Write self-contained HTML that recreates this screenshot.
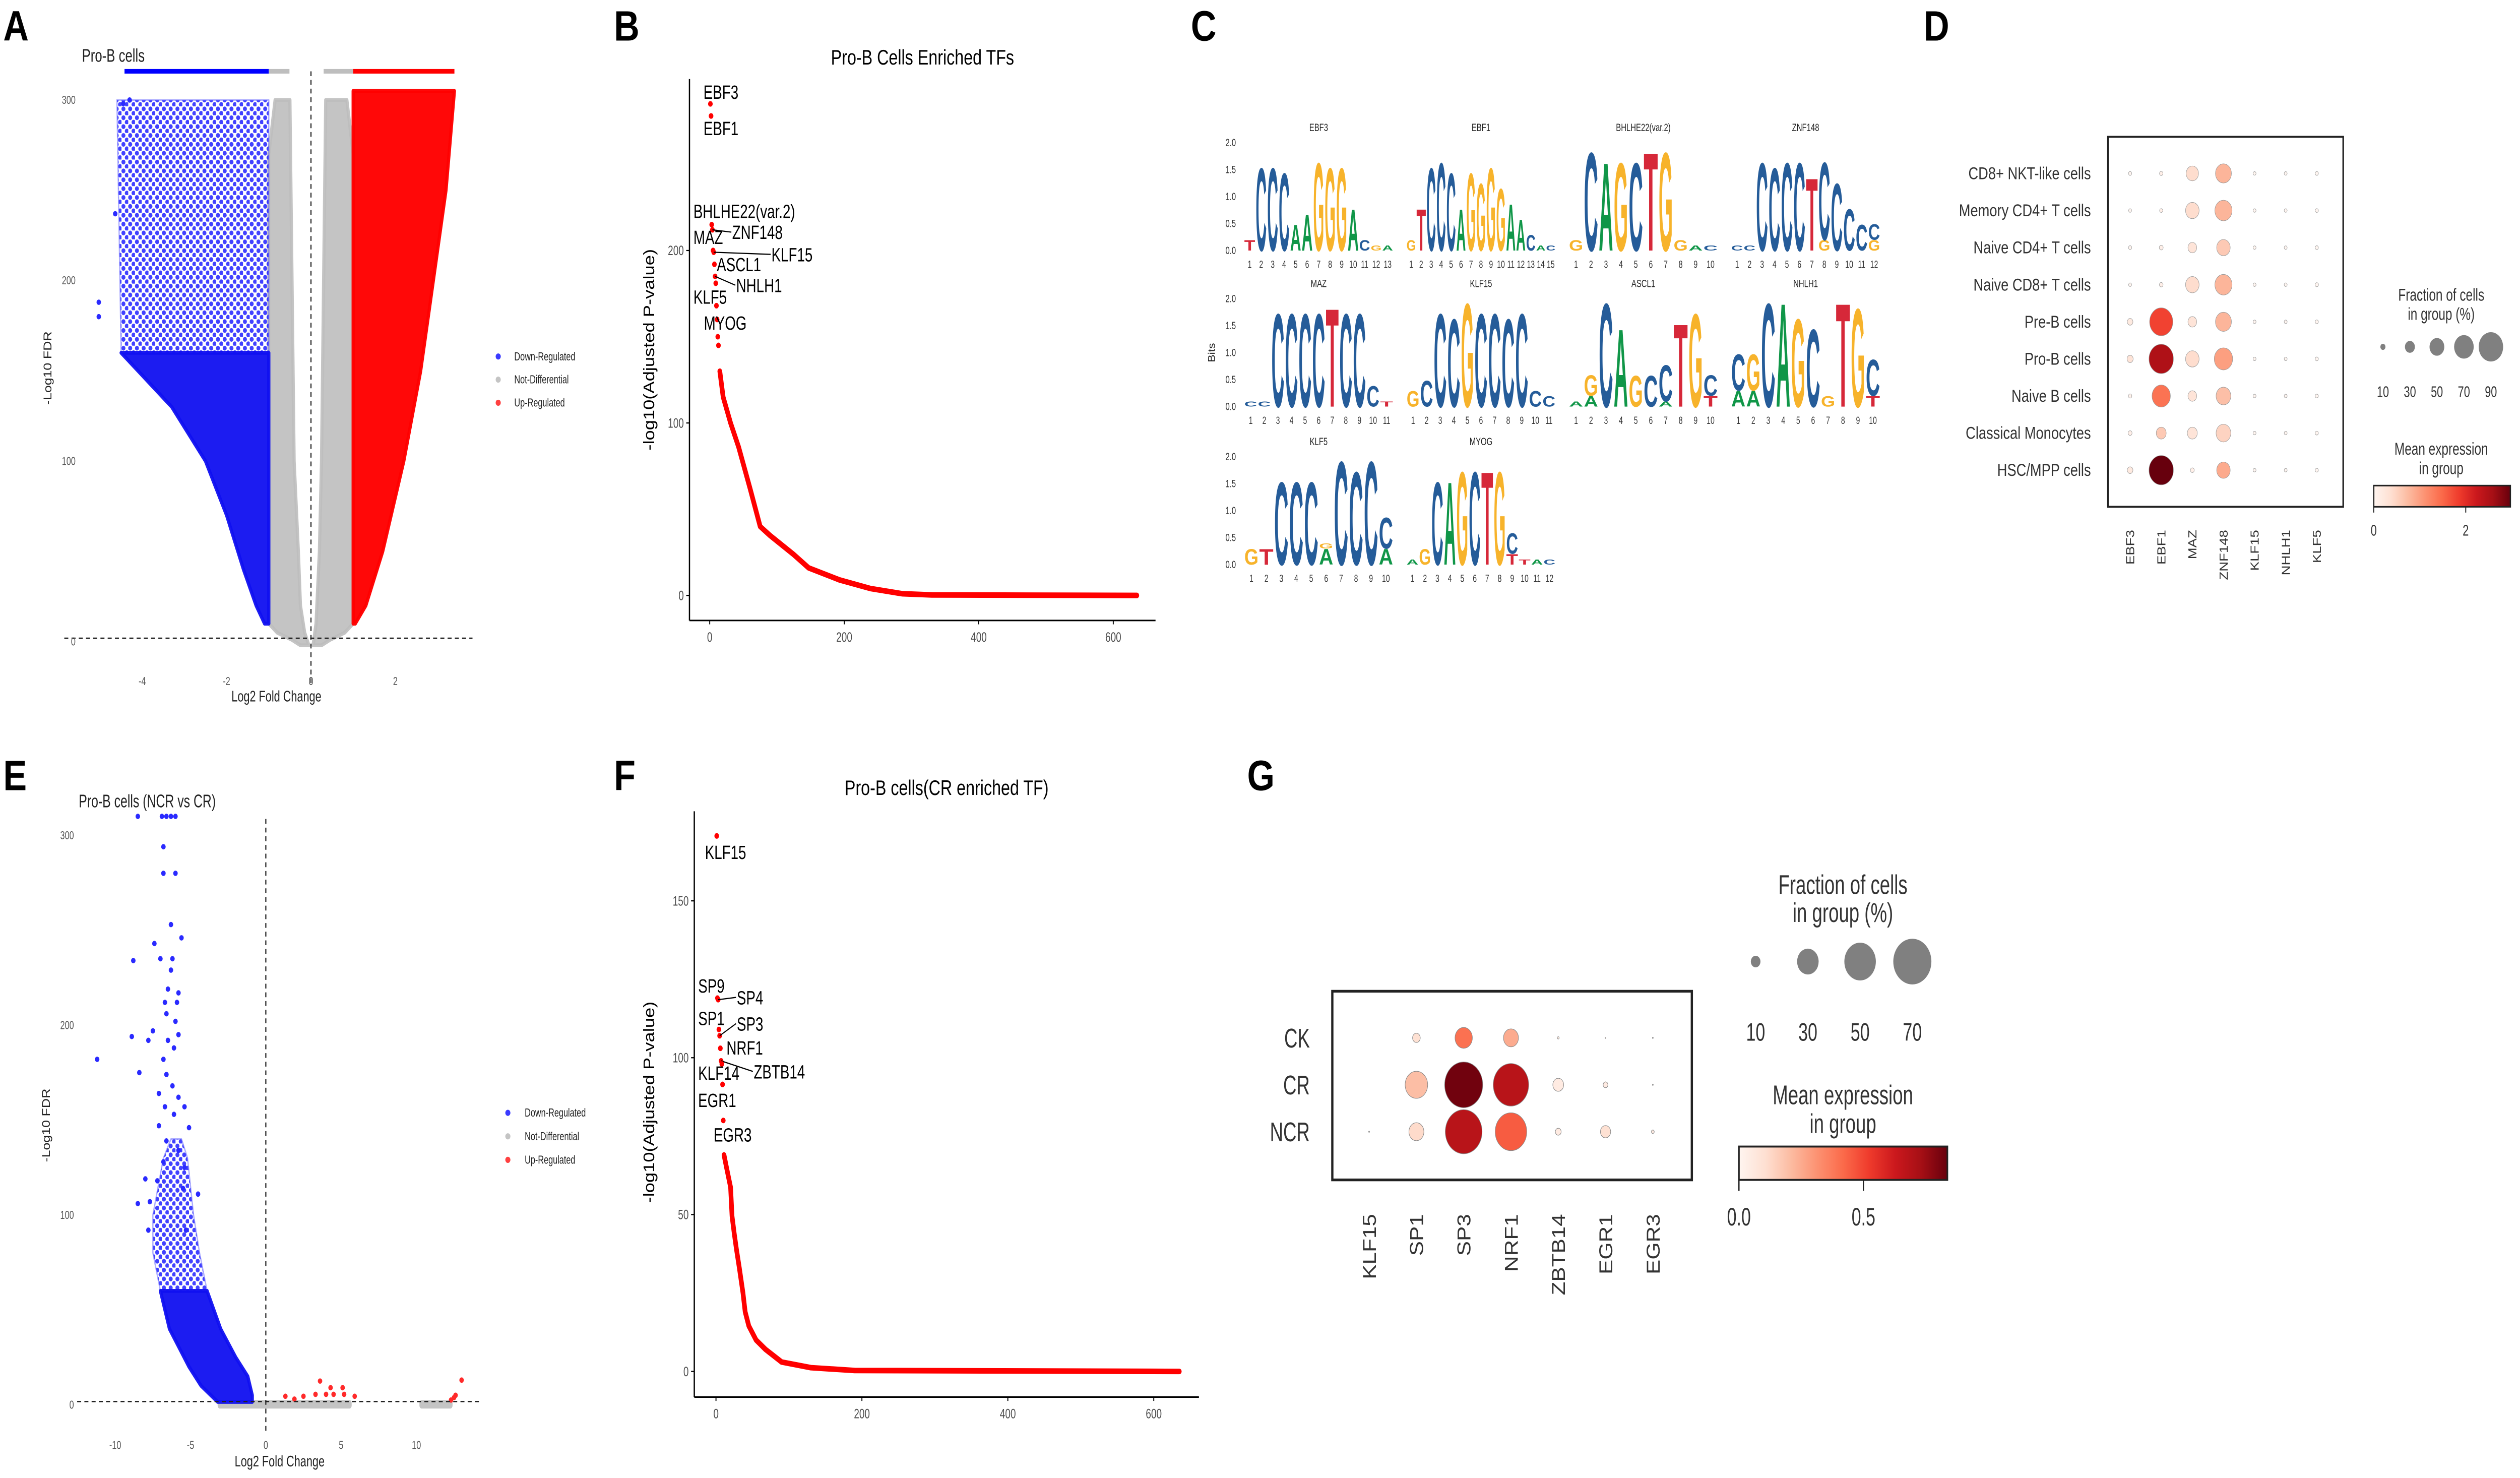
<!DOCTYPE html>
<html><head><meta charset="utf-8">
<style>
html,body{margin:0;padding:0;background:#fff;overflow:hidden;width:100vw;height:100vh;}
svg{display:block;position:fixed;left:0;top:0;width:100vw;height:100vh;}
text{font-family:"Liberation Sans",sans-serif;}
</style></head>
<body>
<svg id="fig" xmlns="http://www.w3.org/2000/svg" viewBox="0 0 1568 767" preserveAspectRatio="none">
<defs>
<linearGradient id="reds" x1="0" x2="1" y1="0" y2="0">
<stop offset="0" stop-color="#fff5f0"/><stop offset="0.125" stop-color="#fee0d2"/><stop offset="0.25" stop-color="#fcbba1"/><stop offset="0.375" stop-color="#fc9272"/><stop offset="0.5" stop-color="#fb6a4a"/><stop offset="0.625" stop-color="#ef3b2c"/><stop offset="0.75" stop-color="#cb181d"/><stop offset="0.875" stop-color="#a50f15"/><stop offset="1" stop-color="#67000d"/>
</linearGradient>
<pattern id="bluedots" width="4.2" height="4.6" patternUnits="userSpaceOnUse">
<circle cx="1.2" cy="1.3" r="1.25" fill="#2020ff" fill-opacity="0.85"/>
<circle cx="3.3" cy="3.6" r="1.25" fill="#2020ff" fill-opacity="0.85"/>
</pattern>
</defs>
<rect x="0" y="0" width="1568" height="767" fill="#fff"/>
</svg>
<script>
// ===== Panel A data (volcano envelopes: [value(-log10FDR), log2FC]) =====
const A_blueSparseL=[[300,-4.6],[230,-4.55],[160,-4.5]];
const A_blueSparseR=[[300,-1.0],[160,-1.0]];
const A_blueDenseL=[[160,-4.5],[150,-4.1],[130,-3.3],[100,-2.5],[70,-2.0],[40,-1.6],[20,-1.3],[10,-1.1]];
const A_blueDenseR=[[160,-1.0],[10,-1.0]];
const A_grayLL=[[300,-0.85],[270,-1.0],[10,-1.0],[5,-0.8],[1,-0.45],[-2,-0.25]];
const A_grayLR=[[300,-0.5],[200,-0.45],[100,-0.4],[50,-0.3],[20,-0.25],[5,-0.15],[-2,-0.05]];
const A_grayRL=[[300,0.35],[200,0.3],[100,0.25],[50,0.2],[10,0.12],[-2,0.05]];
const A_grayRR=[[300,0.85],[270,1.0],[10,1.0],[5,0.8],[1,0.45],[-2,0.25]];
const A_redL=[[305,1.0],[10,1.0]];
const A_redR=[[305,3.4],[250,3.2],[200,2.9],[150,2.6],[100,2.2],[50,1.7],[20,1.3],[10,1.05]];
const A_outX=[-5.03,-5.03,-4.64,-4.3,-4.45];
const A_outY=[188,180,237,300,298];
const A_capSeg=[[-4.42,-1.0,'#0000ff'],[-1.0,-0.51,'#bebebe'],[0.3,1.0,'#bebebe'],[1.0,3.4,'#ff0000']];
const A_xTicks=[-4,-2,0,2];
const A_yTicks=[0,100,200,300];

// ===== Panel B data =====
const B_labels=['EBF3','EBF1','BHLHE22(var.2)','ZNF148','MAZ','KLF15','ASCL1','NHLH1','KLF5','MYOG'];
const B_labelVals=[285,278,215,212,200,199,192,185,181,168];
const B_extraVals=[160,150,145];
const B_curveRank=[15,20,31,43,60,75,89,124,147,193,239,286,330,635];
const B_curveVals=[130,115,100,86,62,40,35,24,16,9,4,1,0.3,0];
const B_xTicks=[0,200,400,600];
const B_yTicks=[0,100,200];
const B_off=[[-4.3,-6.2,0],[-4.7,6.3,0],[-11.4,-7,0],[12.3,1.2,1],[-12.2,-7,0],[35.9,1.1,1],[1.5,0,0],[13.1,4.6,1],[-13.9,7,0],[-7.8,8.9,0]];

// ===== Panel C motifs =====
const C_names=['EBF3','EBF1','BHLHE22(var.2)','ZNF148','MAZ','KLF15','ASCL1','NHLH1','KLF5','MYOG'];
const C_motifs=[
 ['T2','C16','C16','C15','A5','A7','G17','G16','G16','A8','C2','G1','A1'],
 ['G2','T8','C16','C17','C15','A8','G15','G13','G16','G12','A9','A6','C3','A1','C1'],
 ['G2','C19','A17','G17','C17','T19','G19','G2','A1','C1'],
 ['C1','C1','C17','C16','C17','C17','T14','G2C15','C13','C8','C5','G2C3'],
 ['C1','C1','C18','C18','C18','C18','T19','C18','C18','C4','T1'],
 ['G3','C5','C18','C17','G20','C18','C18','C17','C18','C3','C2'],
 ['A1','A2G4','C20','A15','G6','C6','A1C7','T16','G18','T2C4'],
 ['A3C7','A3G7','C20','A20','G17','C15','G2','T20','G19','T2C7'],
 ['G3','T3','C16','C16','C16','A3G1','C20','C18','C20','A3C6'],
 ['A1','G3','C16','A16','G18','C18','T18','G18','T2C4','T1','A1','C1']
];
const C_yTicks=['0.0','0.5','1.0','1.5','2.0'];

// ===== Panel D dotplot =====
const D_rows=['CD8+ NKT-like cells','Memory CD4+ T cells','Naive CD4+ T cells','Naive CD8+ T cells','Pre-B cells','Pro-B cells','Naive B cells','Classical Monocytes','HSC/MPP cells'];
const D_cols=['EBF3','EBF1','MAZ','ZNF148','KLF15','NHLH1','KLF5'];
const D_frac=[[2,3,40,55,1,1,2],[1,2,45,60,1,1,2],[2,5,25,45,1,1,2],[1,4,45,60,1,1,3],[12,85,25,55,1,1,2],[14,90,45,65,1,1,2],[3,65,25,50,1,1,2],[5,30,30,50,1,1,2],[12,90,5,45,1,1,2]];
const D_expr=[[0,0.1,0.4,0.8,0,0,0],[0,0.1,0.4,0.8,0,0,0],[0,0.1,0.3,0.6,0,0,0],[0,0.1,0.4,0.8,0,0,0],[0.2,1.8,0.3,0.8,0,0,0],[0.3,2.5,0.4,1.0,0,0,0],[0.05,1.4,0.3,0.7,0,0,0],[0.1,0.6,0.3,0.5,0,0,0],[0.2,3.1,0.1,0.9,0,0,0]];
const D_sizeTicks=[10,30,50,70,90];
const D_colorTicks=[0,2];

// ===== Panel E data =====
const E_denseL=[[60,-7.0],[40,-6.4],[20,-5.1],[10,-4.3],[1.5,-3.2]];
const E_denseR=[[60,-3.9],[40,-3.0],[25,-2.0],[15,-1.2],[5,-0.9],[1.5,-0.9]];
const E_midL=[[140,-6.3],[130,-6.8],[100,-7.5],[80,-7.5],[60,-7.0]];
const E_midR=[[140,-5.6],[130,-5.2],[100,-4.8],[80,-4.4],[60,-3.9]];
const E_blueX=[-8.5,-6.9,-6.6,-6.3,-6.0,-6.8,-6.8,-6.0,-6.3,-5.6,-7.4,-8.8,-7.0,-6.2,-6.3,-6.5,-5.8,-6.7,-5.9,-6.6,-6.0,-5.8,-8.9,-7.5,-7.8,-6.5,-11.2,-8.4,-6.8,-6.1,-6.6,-6.2,-7.1,-5.8,-6.7,-5.4,-6.1,-5.1,-7.1,-6.6,-5.8,-6.8,-5.4,-8.0,-7.2,-4.5,-8.5,-7.7,-5.5,-7.8,-5.3];
const E_blueY=[310,310,310,310,310,294,280,280,253,246,243,234,235,235,229,219,217,212,212,206,202,195,194,197,192,192,182,175,182,188,174,168,164,162,157,157,153,146,147,139,134,128,125,119,118,111,106,107,114,92,92];
const E_redX=[1.3,2.5,3.3,3.6,4.0,4.3,4.5,5.1,5.2,5.9,1.9,12.6,12.5,13.0,12.3];
const E_redY=[4.5,4.5,5.5,12.5,5.5,9,5.5,9,5.5,4.5,3,5,3.8,13,2.5];
const E_grayRanges=[[-3.2,5.7],[10.2,12.4]];
const E_xTicks=[-10,-5,0,5,10];
const E_yTicks=[0,100,200,300];

// ===== Panel F data =====
const F_labels=['KLF15','SP9','SP4','SP1','SP3','NRF1','ZBTB14','KLF14','EGR1','EGR3'];
const F_labelVals=[170.7,119,118.5,109,107,103,99,98,91.5,80];
const F_curveRank=[11,14,20,22,25,28,32,37,40,45,55,68,90,130,190,635];
const F_curveVals=[69,65.5,58.7,49.5,44,39,33,25,19,14.5,10,7,3,1.2,0.3,0];
const F_xTicks=[0,200,400,600];
const F_yTicks=[0,50,100,150];
const F_off=[[-7.3,8.4,0],[-12,-6.5,0],[11.6,-1.2,1],[-12.9,-5.9,0],[10.7,-6.3,1],[3.8,-0.4,0],[20.3,5.5,1],[-14.7,4.6,0],[-15.2,8.1,0],[-6,7.3,0]];

// ===== Panel G dotplot =====
const G_rows=['CK','CR','NCR'];
const G_cols=['KLF15','SP1','SP3','NRF1','ZBTB14','EGR1','EGR3'];
const G_frac=[[0,8,23,19,2,1,1],[0,32,70,62,12,5,1],[1,19,66,50,6,11,3]];
const G_expr=[[0,0.1,0.4,0.25,0.05,0.02,0.02],[0,0.2,0.82,0.68,0.05,0.05,0.02],[0,0.12,0.68,0.45,0.05,0.1,0.05]];
const G_sizeTicks=[10,30,50,70];
const G_colorTicks=[0,0.5];

// ===================== drawing =====================
const NS='http://www.w3.org/2000/svg';
const svg=document.getElementById('fig');
function mk(parent,tag,attrs,name,inter){
  const el=document.createElementNS(NS,tag);
  for(const k in attrs) el.setAttribute(k,attrs[k]);
  
  
  parent.appendChild(el);
  return el;
}
function grp(name){return mk(svg,'g',{},name);}
function T(p,x,y,s,size,name,o){
  o=o||{};
  const a={'font-size':size,fill:o.fill||'#000','text-anchor':o.anchor||'start'};
  if(o.bold)a['font-weight']='bold';
  if(o.font)a['font-family']=o.font;
  const sx=o.sx||1;
  if(o.rot){a.transform=`translate(${x},${y}) rotate(-90) scale(${sx},1)`;}
  else a.transform=`translate(${x},${y}) scale(${sx},1)`;
  a.x=0;a.y=0;
  const el=mk(p,'text',a,name);
  el.textContent=s;
  return el;
}
function L(p,x1,y1,x2,y2,st,w,name,dash){
  const a={x1,y1,x2,y2,stroke:st,'stroke-width':w};
  if(dash)a['stroke-dasharray']=dash;
  return mk(p,'line',a,name);
}
function envelope(p,left,right,xs,ys,fill,op,name,strokeCol){
  const pts=left.map(q=>xs(q[1])+','+ys(q[0])).concat(right.slice().reverse().map(q=>xs(q[1])+','+ys(q[0])));
  return mk(p,'polygon',{points:pts.join(' '),fill,'fill-opacity':op,stroke:strokeCol||fill,'stroke-opacity':strokeCol?0.5:op,'stroke-width':strokeCol?0.8:2,'stroke-linejoin':'round'},name);
}
const redStops=[[0,[255,245,240]],[0.125,[254,224,210]],[0.25,[252,187,161]],[0.375,[252,146,114]],[0.5,[251,106,74]],[0.625,[239,59,44]],[0.75,[203,24,29]],[0.875,[165,15,21]],[1,[103,0,13]]];
function reds(t){
  t=Math.max(0,Math.min(1,t));
  for(let i=1;i<redStops.length;i++){
    if(t<=redStops[i][0]){const a=redStops[i-1],b=redStops[i];const f=(t-a[0])/(b[0]-a[0]);
      const c=a[1].map((v,k)=>Math.round(v+(b[1][k]-v)*f));return `rgb(${c[0]},${c[1]},${c[2]})`;}
  }
  return 'rgb(103,0,13)';
}
const dv='"DejaVu Sans","Liberation Sans",sans-serif';

// Panel letters
[['A',2,21],['B',382,21],['C',741,21],['D',1197,21],['E',2,410],['F',382,410],['G',776,410]].forEach(q=>{
  T(svg,q[1],q[2],q[0],22,'panel-label-'+q[0].toLowerCase(),{bold:true});
});

// ---------- Panel A ----------
(function(){
  const g=grp('panel-a-volcano');
  const xA=v=>193.5+v*26.25, yA=v=>333-v*0.937;
  T(g,51,32,'Pro-B cells',9.5,'panel-a-title',{sx:0.85,fill:'#222'});
  envelope(g,A_grayLL,A_grayLR,xA,yA,'#bebebe',0.9,'gray-points-left');
  envelope(g,A_grayRL,A_grayRR,xA,yA,'#bebebe',0.9,'gray-points-right');
  envelope(g,A_blueSparseL,A_blueSparseR,xA,yA,'url(#bluedots)',1,'blue-points-sparse','#6060ff');
  envelope(g,A_blueDenseL,A_blueDenseR,xA,yA,'#1010f0',0.95,'blue-points-dense');
  envelope(g,A_redL,A_redR,xA,yA,'#ff0000',0.97,'red-points');
  A_outX.forEach((x,i)=>{mk(g,'circle',{cx:xA(x),cy:yA(A_outY[i]),r:1.4,fill:'#2a2aff'},'blue-outlier');});
  A_capSeg.forEach(s=>{L(g,xA(s[0]),37,xA(s[1]),37,s[2],2.4,'capped-points');});
  L(g,40,yA(1.9),294,yA(1.9),'#222',0.7,'fdr-threshold-line','2.5,2');
  L(g,xA(0),37,xA(0),356,'#222',0.7,'zero-fc-line','2.5,2');
  A_yTicks.forEach(v=>T(g,47,yA(v)+2,String(v),6,'y-tick-label',{anchor:'end',fill:'#555',sx:0.85}));
  A_xTicks.forEach(v=>T(g,xA(v),355.5,String(v),6,'x-tick-label',{anchor:'middle',fill:'#555',sx:0.85}));
  T(g,172,364,'Log2 Fold Change',8,'x-axis-title',{anchor:'middle',sx:0.85,fill:'#222'});
  T(g,32,191,'-Log10 FDR',7,'y-axis-title',{anchor:'middle',rot:true,fill:'#222'});
  const leg=[['Down-Regulated','#3a3aff'],['Not-Differential','#c4c4c4'],['Up-Regulated','#ff4040']];
  leg.forEach((l,i)=>{const y=185+i*12;mk(g,'circle',{cx:310,cy:y,r:1.6,fill:l[1]},'legend-dot');
    T(g,320,y+2,l[0],6,'legend-entry',{sx:0.85,fill:'#222'});});
})();

// ---------- Panel B ----------
(function(){
  const g=grp('panel-b-ranked-tfs');
  const xB=r=>441.6+r*0.4185, yB=v=>309-v*0.895;
  T(g,574,33.5,'Pro-B Cells Enriched TFs',11,'panel-b-title',{anchor:'middle',sx:0.92});
  L(g,429,41,429,322,'#000',0.8,'y-axis-line');
  L(g,429,322,719,322,'#000',0.8,'x-axis-line');
  B_yTicks.forEach(v=>{L(g,427,yB(v),429,yB(v),'#000',0.6,'y-tick');T(g,425.5,yB(v)+2.4,String(v),7,'y-tick-label',{anchor:'end',fill:'#4d4d4d',sx:0.85});});
  B_xTicks.forEach(v=>{L(g,xB(v),322,xB(v),324,'#000',0.6,'x-tick');T(g,xB(v),333,String(v),7,'x-tick-label',{anchor:'middle',fill:'#4d4d4d',sx:0.85});});
  T(g,407,181.5,'-log10(Adjusted P-value)',9.5,'y-axis-title',{anchor:'middle',rot:true});
  const pts=B_curveRank.map((r,i)=>xB(r)+','+yB(B_curveVals[i]));
  mk(g,'polyline',{points:pts.join(' '),fill:'none',stroke:'#ff0000','stroke-width':2.9,'stroke-linecap':'round','stroke-linejoin':'round'},'ranked-curve');
  B_extraVals.forEach((v,i)=>mk(g,'circle',{cx:xB(11+i),cy:yB(v),r:1.45,fill:'#ff0000'},'tf-point'));
  B_labelVals.forEach((v,i)=>{
    const px=xB(i+1),py=yB(v),o=B_off[i];
    mk(g,'circle',{cx:px,cy:py,r:1.45,fill:'#ff0000'},'tf-point');
    if(o[2])L(g,px,py,px+o[0]-0.5,py+o[1],'#000',0.6,'label-connector');
    T(g,px+o[0],py+o[1]+3.6,B_labels[i],10,'tf-label',{sx:0.87});
  });
})();

// ---------- Panel C ----------
(function(){
  const g=grp('panel-c-motifs');
  const colors={A:'#109648',C:'#255c99',G:'#f7b32b',T:'#d62839'};
  const gw={A:7.22,C:7.22,G:7.78,T:6.11};
  const x0s=[774,875,976,1077], bases=[130,211,293], W=93, bit=28;
  T(g,756,183,'Bits',6,'bits-axis-title',{anchor:'middle',rot:true,fill:'#222'});
  C_motifs.forEach((m,mi)=>{
    const row=Math.floor(mi/4), col=mi%4, x0=x0s[col], yb=bases[row];
    const sp=W/m.length;
    T(g,x0+W/2,yb-62,C_names[mi],5.5,'motif-title',{anchor:'middle',sx:0.85,fill:'#222'});
    if(col===0){C_yTicks.forEach((t,k)=>T(g,769,yb-k*0.5*bit+1.8,t,5.5,'bits-tick-label',{anchor:'end',sx:0.85,fill:'#333'}));}
    m.forEach((s,pi)=>{
      const cx=x0+(pi+0.5)*sp;
      T(g,cx,yb+9,String(pi+1),5.5,'position-label',{anchor:'middle',sx:0.8,fill:'#333'});
      const parts=s.match(/[ACGT]\d+/g);
      let y=yb;
      parts.forEach(pt=>{
        const ch=pt[0],h=parseInt(pt.slice(1))/10*bit;
        const el=mk(g,'text',{x:0,y:0,'font-size':10,'font-weight':'bold','text-anchor':'middle',fill:colors[ch],
          transform:`translate(${cx},${y}) scale(${(sp*0.95)/gw[ch]},${h/7.29})`},'motif-letter');
        el.textContent=ch;
        y-=h;
      });
    });
  });
})();

// ---------- Panel D ----------
(function(){
  const g=grp('panel-d-dotplot');
  const rowY=i=>90+i*19.25, colX=j=>1325.4+j*19.36;
  const diam=f=>f<=0?0:0.15*f+1.7;
  const vmax=2.97;
  mk(g,'rect',{x:1311.6,y:71,width:146.4,height:192,fill:'none',stroke:'#222','stroke-width':1},'plot-frame');
  D_rows.forEach((r,i)=>T(g,1301,rowY(i)+3,r,9,'row-label',{anchor:'end',fill:'#333',sx:0.95}));
  D_cols.forEach((c,j)=>T(g,colX(j)+2.6,275,c,7.2,'column-label',{anchor:'end',rot:true,fill:'#333',font:dv}));
  D_frac.forEach((row,i)=>row.forEach((f,j)=>{
    mk(g,'circle',{cx:colX(j),cy:rowY(i),r:diam(f)/2,fill:reds(D_expr[i][j]/vmax),stroke:'#999','stroke-width':0.25},'expression-dot');
  }));
  T(g,1519,156,'Fraction of cells',9,'size-legend-title',{anchor:'middle',sx:0.85,fill:'#333'});
  T(g,1519,166,'in group (%)',9,'size-legend-title',{anchor:'middle',sx:0.85,fill:'#333'});
  D_sizeTicks.forEach((f,k)=>{const x=1482.7+k*16.8;
    mk(g,'circle',{cx:x,cy:180,r:diam(f)/2,fill:'#808080'},'size-legend-dot');
    T(g,x,206,String(f),8,'size-legend-label',{anchor:'middle',sx:0.85,fill:'#333'});});
  T(g,1519,236,'Mean expression',9,'color-legend-title',{anchor:'middle',sx:0.85,fill:'#333'});
  T(g,1519,246,'in group',9,'color-legend-title',{anchor:'middle',sx:0.85,fill:'#333'});
  mk(g,'rect',{x:1477,y:252,width:85,height:11,fill:'url(#reds)',stroke:'#222','stroke-width':0.8},'colorbar');
  D_colorTicks.forEach(t=>{const x=1477+t/vmax*85;L(g,x,263,x,266,'#222',0.6,'colorbar-tick');
    T(g,x,278,String(t),8,'colorbar-label',{anchor:'middle',sx:0.85,fill:'#333'});});
})();

// ---------- Panel E ----------
(function(){
  const g=grp('panel-e-volcano');
  const xE=v=>165.4+v*9.37, yE=v=>729-v*0.985;
  T(g,49,419,'Pro-B cells (NCR vs CR)',9.5,'panel-e-title',{sx:0.82,fill:'#222'});
  E_grayRanges.forEach(r=>mk(g,'rect',{x:xE(r[0]),y:yE(2.5),width:xE(r[1])-xE(r[0]),height:yE(-2)-yE(2.5),fill:'#c4c4c4',rx:1.5},'gray-points'));
  envelope(g,E_midL,E_midR,xE,yE,'url(#bluedots)',1,'blue-points-mid','#6060ff');
  envelope(g,E_denseL,E_denseR,xE,yE,'#1010f0',0.95,'blue-points-dense');
  E_blueX.forEach((x,i)=>mk(g,'circle',{cx:xE(x),cy:yE(E_blueY[i]),r:1.4,fill:'#2a2aff'},'blue-point'));
  E_redX.forEach((x,i)=>mk(g,'circle',{cx:xE(x),cy:yE(E_redY[i]),r:1.4,fill:'#ff2a2a'},'red-point'));
  L(g,48,yE(1.7),298,yE(1.7),'#222',0.7,'fdr-threshold-line','2.5,2');
  L(g,xE(0),425,xE(0),744,'#222',0.7,'zero-fc-line','2.5,2');
  E_yTicks.forEach(v=>T(g,46,yE(v)+2,String(v),6,'y-tick-label',{anchor:'end',fill:'#555',sx:0.85}));
  E_xTicks.forEach(v=>T(g,xE(v),752,String(v),6,'x-tick-label',{anchor:'middle',fill:'#555',sx:0.85}));
  T(g,174,761,'Log2 Fold Change',8,'x-axis-title',{anchor:'middle',sx:0.85,fill:'#222'});
  T(g,31,584,'-Log10 FDR',7,'y-axis-title',{anchor:'middle',rot:true,fill:'#222'});
  const leg=[['Down-Regulated','#3a3aff'],['Not-Differential','#c4c4c4'],['Up-Regulated','#ff4040']];
  leg.forEach((l,i)=>{const y=577.5+i*12.2;mk(g,'circle',{cx:316,cy:y,r:1.6,fill:l[1]},'legend-dot');
    T(g,326.5,y+2,l[0],6,'legend-entry',{sx:0.85,fill:'#222'});});
})();

// ---------- Panel F ----------
(function(){
  const g=grp('panel-f-ranked-tfs');
  const xF=r=>445.5+r*0.454, yF=v=>711.7-v*1.628;
  T(g,589,412.5,'Pro-B cells(CR enriched TF)',11,'panel-f-title',{anchor:'middle',sx:0.92});
  L(g,432,421,432,725,'#000',0.8,'y-axis-line');
  L(g,432,725,746,725,'#000',0.8,'x-axis-line');
  F_yTicks.forEach(v=>{L(g,430,yF(v),432,yF(v),'#000',0.6,'y-tick');T(g,428.5,yF(v)+2.4,String(v),7,'y-tick-label',{anchor:'end',fill:'#4d4d4d',sx:0.85});});
  F_xTicks.forEach(v=>{L(g,xF(v),725,xF(v),727,'#000',0.6,'x-tick');T(g,xF(v),736,String(v),7,'x-tick-label',{anchor:'middle',fill:'#4d4d4d',sx:0.85});});
  T(g,407,572,'-log10(Adjusted P-value)',9.5,'y-axis-title',{anchor:'middle',rot:true});
  const pts=F_curveRank.map((r,i)=>xF(r)+','+yF(F_curveVals[i]));
  mk(g,'polyline',{points:pts.join(' '),fill:'none',stroke:'#ff0000','stroke-width':2.9,'stroke-linecap':'round','stroke-linejoin':'round'},'ranked-curve');
  F_labelVals.forEach((v,i)=>{
    const px=xF(i+1),py=yF(v),o=F_off[i];
    mk(g,'circle',{cx:px,cy:py,r:1.45,fill:'#ff0000'},'tf-point');
    if(o[2])L(g,px,py,px+o[0]-0.5,py+o[1],'#000',0.6,'label-connector');
    T(g,px+o[0],py+o[1]+3.6,F_labels[i],10,'tf-label',{sx:0.87});
  });
})();

// ---------- Panel G ----------
(function(){
  const g=grp('panel-g-dotplot');
  const rowY=i=>538.6+i*24.35, colX=j=>851.9+j*29.42;
  const sd=[0,6,13.4,19.6,23.7], sf=[0,10,30,50,70];
  const diam=f=>{if(f<=0)return 0;for(let k=1;k<sf.length;k++){if(f<=sf[k])return sd[k-1]+(sd[k]-sd[k-1])*(f-sf[k-1])/(sf[k]-sf[k-1]);}return 23.7+(f-70)*0.2;};
  const vmax=0.837;
  mk(g,'rect',{x:829,y:514.4,width:223.7,height:97.9,fill:'none',stroke:'#222','stroke-width':1.4},'plot-frame');
  G_rows.forEach((r,i)=>T(g,815,rowY(i)+5,r,14,'row-label',{anchor:'end',fill:'#333',sx:0.82}));
  G_cols.forEach((c,j)=>T(g,colX(j)+4.2,630,c,11.5,'column-label',{anchor:'end',rot:true,fill:'#333',font:dv}));
  G_frac.forEach((row,i)=>row.forEach((f,j)=>{
    mk(g,'circle',{cx:colX(j),cy:rowY(i),r:diam(f)/2,fill:reds(G_expr[i][j]/vmax),stroke:'#888','stroke-width':0.3},'expression-dot');
  }));
  T(g,1146.7,464,'Fraction of cells',14,'size-legend-title',{anchor:'middle',sx:0.82,fill:'#333'});
  T(g,1146.7,478.5,'in group (%)',14,'size-legend-title',{anchor:'middle',sx:0.82,fill:'#333'});
  G_sizeTicks.forEach((f,k)=>{const x=1092.4+k*32.5;
    mk(g,'circle',{cx:x,cy:499,r:diam(f)/2,fill:'#808080'},'size-legend-dot');
    T(g,x,540,String(f),13,'size-legend-label',{anchor:'middle',sx:0.82,fill:'#333'});});
  T(g,1146.7,573,'Mean expression',14,'color-legend-title',{anchor:'middle',sx:0.82,fill:'#333'});
  T(g,1146.7,588,'in group',14,'color-legend-title',{anchor:'middle',sx:0.82,fill:'#333'});
  mk(g,'rect',{x:1082,y:595,width:129.7,height:17.3,fill:'url(#reds)',stroke:'#222','stroke-width':1},'colorbar');
  G_colorTicks.forEach(t=>{const x=1082+t/vmax*129.7;L(g,x,612.3,x,618,'#222',0.8,'colorbar-tick');
    T(g,x,636,t.toFixed(1),13,'colorbar-label',{anchor:'middle',sx:0.82,fill:'#333'});});
})();
</script>
</body></html>
